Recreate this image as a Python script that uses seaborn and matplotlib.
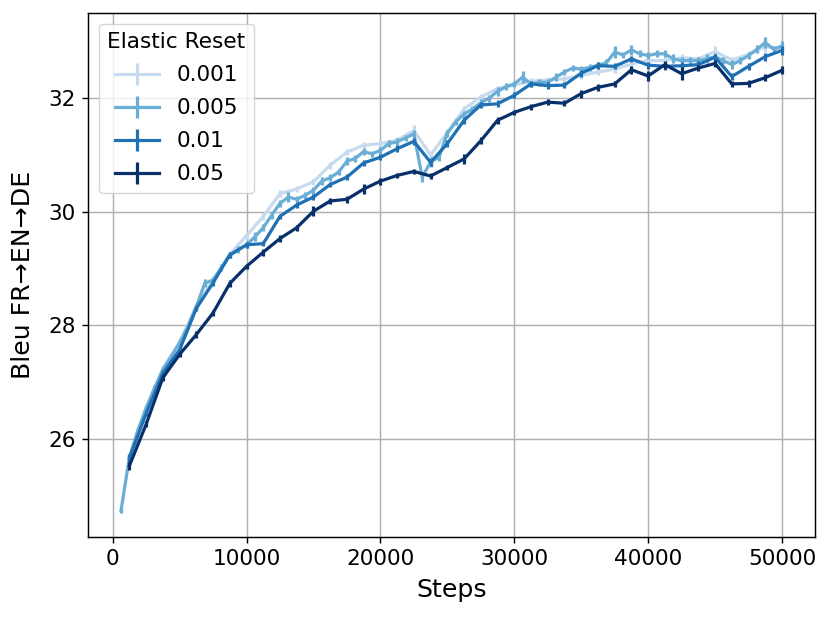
import numpy as np
import pandas as pd
import matplotlib
matplotlib.use("Agg")
import matplotlib.pyplot as plt
import seaborn as sns

# evaluation steps (0.005 run was evaluated twice as often)
steps_coarse = np.arange(1250, 50001, 1250)
steps_fine = np.arange(625, 50001, 625)

reset_labels = ["0.001", "0.005", "0.01", "0.05"]

bleu_001 = [25.65, 26.50, 27.25, 27.70, 28.35, 28.80, 29.25, 29.58, 29.92, 30.32,
            30.40, 30.53, 30.82, 31.05, 31.17, 31.20, 31.26, 31.43, 31.00, 31.40,
            31.81, 32.02, 32.17, 32.23, 32.30, 32.32, 32.34, 32.40, 32.46, 32.51,
            32.60, 32.66, 32.66, 32.71, 32.69, 32.82, 32.67, 32.77, 32.91, 32.87]

bleu_005 = [24.74, 25.68, 26.15, 26.55, 26.90, 27.22, 27.45, 27.70, 27.98, 28.33,
            28.74, 28.80, 29.02, 29.24, 29.33, 29.42, 29.56, 29.72, 29.94, 30.15,
            30.26, 30.22, 30.29, 30.38, 30.54, 30.60, 30.70, 30.89, 30.94, 31.06,
            31.02, 31.08, 31.20, 31.23, 31.30, 31.37, 30.61, 30.88, 30.96, 31.38,
            31.58, 31.72, 31.81, 31.92, 32.00, 32.12, 32.20, 32.25, 32.37, 32.25,
            32.28, 32.28, 32.37, 32.46, 32.53, 32.51, 32.54, 32.58, 32.62, 32.81,
            32.76, 32.85, 32.78, 32.75, 32.78, 32.78, 32.69, 32.66, 32.66, 32.66,
            32.69, 32.73, 32.66, 32.59, 32.66, 32.75, 32.86, 32.98, 32.86, 32.92]

bleu_01 = [25.67, 26.45, 27.16, 27.57, 28.30, 28.75, 29.24, 29.42, 29.44, 29.92,
           30.12, 30.26, 30.48, 30.61, 30.86, 30.96, 31.11, 31.24, 30.87, 31.20,
           31.61, 31.88, 31.90, 32.05, 32.25, 32.22, 32.23, 32.44, 32.57, 32.56,
           32.69, 32.58, 32.56, 32.57, 32.59, 32.72, 32.38, 32.56, 32.73, 32.84]

bleu_05 = [25.53, 26.26, 27.08, 27.49, 27.84, 28.22, 28.74, 29.04, 29.29, 29.53,
           29.72, 30.01, 30.19, 30.22, 30.40, 30.54, 30.64, 30.71, 30.63, 30.78,
           30.93, 31.25, 31.61, 31.75, 31.85, 31.93, 31.91, 32.08, 32.19, 32.25,
           32.50, 32.39, 32.59, 32.43, 32.53, 32.61, 32.25, 32.26, 32.36, 32.49]

err_001 = [0.05, 0.05, 0.05, 0.05, 0.05, 0.05, 0.06, 0.05, 0.06, 0.06,
           0.06, 0.05, 0.06, 0.05, 0.05, 0.06, 0.06, 0.10, 0.06, 0.05,
           0.06, 0.05, 0.05, 0.05, 0.06, 0.06, 0.05, 0.06, 0.06, 0.06,
           0.05, 0.06, 0.06, 0.06, 0.05, 0.09, 0.06, 0.06, 0.10, 0.06]

err_005 = [0.04, 0.05, 0.05, 0.05, 0.05, 0.05, 0.05, 0.05, 0.05, 0.05,
           0.07, 0.06, 0.06, 0.05, 0.06, 0.06, 0.08, 0.06, 0.07, 0.06,
           0.08, 0.05, 0.06, 0.06, 0.07, 0.06, 0.06, 0.07, 0.06, 0.06,
           0.05, 0.06, 0.06, 0.06, 0.05, 0.07, 0.08, 0.09, 0.06, 0.06,
           0.06, 0.06, 0.06, 0.06, 0.06, 0.08, 0.06, 0.06, 0.10, 0.06,
           0.06, 0.06, 0.07, 0.06, 0.06, 0.06, 0.06, 0.06, 0.06, 0.10,
           0.06, 0.09, 0.06, 0.06, 0.06, 0.06, 0.08, 0.06, 0.06, 0.06,
           0.08, 0.06, 0.06, 0.08, 0.06, 0.06, 0.07, 0.10, 0.06, 0.09]

err_01 = [0.07, 0.05, 0.05, 0.05, 0.05, 0.05, 0.05, 0.05, 0.05, 0.05,
          0.05, 0.05, 0.05, 0.05, 0.05, 0.05, 0.06, 0.06, 0.06, 0.06,
          0.06, 0.06, 0.06, 0.05, 0.06, 0.06, 0.06, 0.06, 0.06, 0.05,
          0.06, 0.06, 0.06, 0.06, 0.06, 0.06, 0.06, 0.06, 0.07, 0.08]

err_05 = [0.07, 0.05, 0.05, 0.04, 0.06, 0.06, 0.06, 0.05, 0.06, 0.06,
          0.05, 0.09, 0.06, 0.06, 0.09, 0.06, 0.05, 0.05, 0.05, 0.05,
          0.09, 0.06, 0.06, 0.05, 0.05, 0.05, 0.05, 0.07, 0.06, 0.06,
          0.07, 0.08, 0.07, 0.11, 0.06, 0.06, 0.06, 0.06, 0.06, 0.07]

series = [
    (reset_labels[0], steps_coarse, bleu_001, err_001),
    (reset_labels[1], steps_fine, bleu_005, err_005),
    (reset_labels[2], steps_coarse, bleu_01, err_01),
    (reset_labels[3], steps_coarse, bleu_05, err_05),
]

frames = []
for label, xs, ys, es in series:
    frames.append(pd.DataFrame({"step": xs, "bleu": ys, "err": es, "reset": label}))
df = pd.concat(frames, ignore_index=True)

colors = plt.cm.Blues([0.25, 0.5, 0.75, 1.0])

plt.rcParams["font.family"] = ["DejaVu Sans"]
fig, ax = plt.subplots(figsize=(8.3, 6.17), dpi=100)
fig.subplots_adjust(left=0.106, right=0.982, top=0.979, bottom=0.130)

lw = 2.3
handles = []
for (label, _, _, _), c in zip(series, colors):
    sub = df[df["reset"] == label]
    sns.lineplot(data=sub, x="step", y="bleu", color=c, lw=lw,
                 estimator=None, sort=False, ax=ax)
    line = ax.lines[-1]
    eb = ax.errorbar(sub["step"], sub["bleu"], yerr=sub["err"], fmt="none",
                     ecolor=c, elinewidth=lw)
    handles.append((line, eb))

ax.grid(True, color="#b0b0b0", lw=1.04)
ax.set_axisbelow(True)
ax.set_yticks([26, 28, 30, 32])
ax.set_xlabel("Steps", fontsize=18.2, labelpad=6)
ax.set_ylabel("Bleu FR→EN→DE", fontsize=18.2, labelpad=9.5)
ax.tick_params(labelsize=15.6, length=4.5, width=1.04, pad=4.55)
for s in ax.spines.values():
    s.set_linewidth(1.04)

ax.legend(handles, reset_labels, title="Elastic Reset", loc="upper left",
          fontsize=15.6, title_fontsize=15.6, labelspacing=0.6)

fig.savefig("out.png", dpi=100)
